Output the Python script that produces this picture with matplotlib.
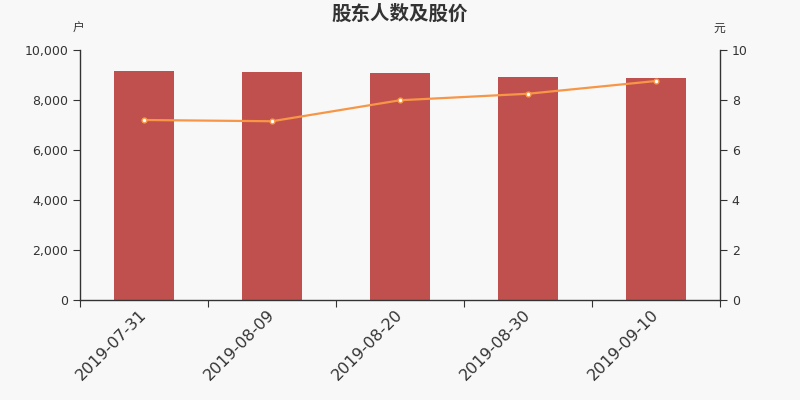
import matplotlib
matplotlib.use("Agg")
import matplotlib.pyplot as plt
import numpy as np
from matplotlib.ticker import FuncFormatter

plt.rcParams['font.family'] = ['DejaVu Sans', 'Noto Sans CJK SC']

dates = ["2019-07-31", "2019-08-09", "2019-08-20", "2019-08-30", "2019-09-10"]
holders = [9160, 9107, 9080, 8920, 8880]
price = [7.20, 7.15, 7.99, 8.25, 8.76]

bg = "#f8f8f8"
axis_c = "#333333"

fig = plt.figure(figsize=(8, 4), dpi=100, facecolor=bg)
ax = fig.add_axes([0.1, 0.25, 0.8, 0.625], facecolor=bg)
ax2 = ax.twinx()

x = np.arange(len(dates))
ax.bar(x, holders, width=0.47, color="#c0504d", zorder=2)
ax2.plot(x, price, color="#f79646", lw=1.6, marker="o", markersize=3.5,
         markerfacecolor="white", markeredgecolor="#f79646", markeredgewidth=1, zorder=3)

ax.set_xlim(-0.5, len(dates) - 0.5)
ax.set_ylim(0, 10000)
ax2.set_ylim(0, 10)
ax.set_yticks(np.arange(0, 10001, 2000))
ax2.set_yticks(np.arange(0, 11, 2))
ax.yaxis.set_major_formatter(FuncFormatter(lambda v, p: f"{int(v):,}"))

# ticks at category boundaries, labels at centers
ax.set_xticks(np.arange(-0.5, len(dates), 1.0))
ax.set_xticklabels([])
ax.set_xticks(x, minor=True)
ax.set_xticklabels(dates, minor=True, rotation=45, ha="right", va="center",
                   rotation_mode="anchor", fontsize=11.5, color=axis_c)
ax.tick_params(axis="x", which="minor", length=0, pad=9)
ax.tick_params(axis="x", which="major", length=5, color=axis_c)

for a in (ax, ax2):
    for s in a.spines.values():
        s.set_visible(False)
ax.spines["left"].set_visible(True)
ax.spines["bottom"].set_visible(True)
ax2.spines["right"].set_visible(True)
for s in (ax.spines["left"], ax.spines["bottom"], ax2.spines["right"]):
    s.set_color(axis_c)
    s.set_linewidth(1)

ax.tick_params(axis="y", length=5, color=axis_c, labelsize=9, labelcolor=axis_c)
ax2.tick_params(axis="y", length=5, color=axis_c, labelsize=9, labelcolor=axis_c)

fig.text(0.5, 0.965, "股东人数及股价", ha="center", va="center", fontsize=14,
         fontweight="bold", color=axis_c)
fig.text(0.098, 0.93, "户", ha="center", va="center", fontsize=8.5, color=axis_c)
fig.text(0.899, 0.93, "元", ha="center", va="center", fontsize=8.5, color=axis_c)

fig.savefig("out.png", dpi=100, facecolor=bg)
